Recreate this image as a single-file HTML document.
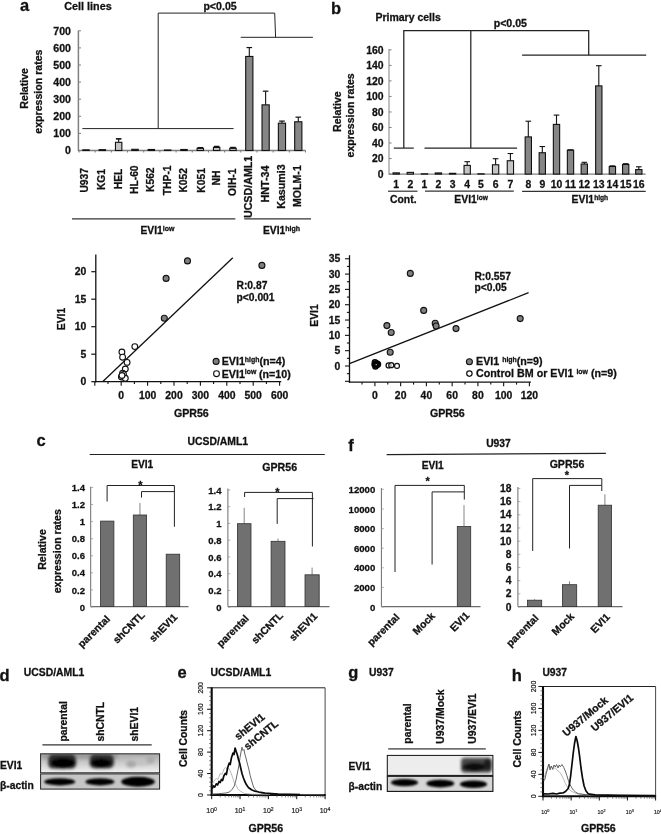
<!DOCTYPE html>
<html lang="en"><head><meta charset="utf-8"><title>Figure</title>
<style>html,body{margin:0;padding:0;background:#fff}svg{display:block}text{font-family:'Liberation Sans', sans-serif;stroke:#111;stroke-width:.28px}text.tk{font-weight:normal;stroke-width:.18px}</style>
</head><body>
<svg width="661" height="834" viewBox="0 0 661 834">
<defs>
<filter id="blur1" x="-20%" y="-50%" width="140%" height="200%"><feGaussianBlur stdDeviation="0.9"/></filter>
<filter id="blur2" x="-20%" y="-50%" width="140%" height="200%"><feGaussianBlur stdDeviation="1.7"/></filter>
<linearGradient id="gd1" x1="0" y1="0" x2="0" y2="1"><stop offset="0" stop-color="#a8a8a8"/><stop offset="0.6" stop-color="#d4d4d4"/><stop offset="1" stop-color="#f2f2f2"/></linearGradient>
<clipPath id="clipd1"><rect x="40.6" y="753.8" width="119" height="19"/></clipPath>
<clipPath id="clipd2"><rect x="40.6" y="773.9" width="119" height="15.2"/></clipPath>
<clipPath id="clipg1"><rect x="387.3" y="755.4" width="105.6" height="20"/></clipPath>
<clipPath id="clipg2"><rect x="387.3" y="776.3" width="105.6" height="15.1"/></clipPath>
</defs>
<rect x="0" y="0" width="661" height="834" fill="#fff"/>
<g id="panel-a">
<text x="20" y="11.3" font-size="16.5" text-anchor="start" font-weight="bold" fill="#111">a</text>
<text x="64.3" y="9.6" font-size="10.8" text-anchor="start" font-weight="bold" fill="#111">Cell lines</text>
<text x="203.4" y="9.9" font-size="10.6" text-anchor="start" font-weight="bold" fill="#111">p&lt;0.05</text>
<line x1="78.4" y1="30.5" x2="78.4" y2="151.2" stroke="#808080" stroke-width="1.5"/>
<line x1="78.4" y1="150.5" x2="305.5" y2="150.5" stroke="#808080" stroke-width="1.4"/>
<line x1="78.4" y1="150.5" x2="81" y2="150.5" stroke="#808080" stroke-width="1"/>
<text x="71" y="154.3" font-size="10.6" text-anchor="end" font-weight="bold" fill="#111">0</text>
<line x1="78.4" y1="133.4" x2="81" y2="133.4" stroke="#808080" stroke-width="1"/>
<text x="71" y="137.20000000000002" font-size="10.6" text-anchor="end" font-weight="bold" fill="#111">100</text>
<line x1="78.4" y1="116.3" x2="81" y2="116.3" stroke="#808080" stroke-width="1"/>
<text x="71" y="120.1" font-size="10.6" text-anchor="end" font-weight="bold" fill="#111">200</text>
<line x1="78.4" y1="99.19999999999999" x2="81" y2="99.19999999999999" stroke="#808080" stroke-width="1"/>
<text x="71" y="102.99999999999999" font-size="10.6" text-anchor="end" font-weight="bold" fill="#111">300</text>
<line x1="78.4" y1="82.1" x2="81" y2="82.1" stroke="#808080" stroke-width="1"/>
<text x="71" y="85.89999999999999" font-size="10.6" text-anchor="end" font-weight="bold" fill="#111">400</text>
<line x1="78.4" y1="65.0" x2="81" y2="65.0" stroke="#808080" stroke-width="1"/>
<text x="71" y="68.8" font-size="10.6" text-anchor="end" font-weight="bold" fill="#111">500</text>
<line x1="78.4" y1="47.89999999999999" x2="81" y2="47.89999999999999" stroke="#808080" stroke-width="1"/>
<text x="71" y="51.69999999999999" font-size="10.6" text-anchor="end" font-weight="bold" fill="#111">600</text>
<line x1="78.4" y1="30.799999999999983" x2="81" y2="30.799999999999983" stroke="#808080" stroke-width="1"/>
<text x="71" y="34.59999999999998" font-size="10.6" text-anchor="end" font-weight="bold" fill="#111">700</text>
<text x="27.8" y="88.3" font-size="10.6" text-anchor="middle" font-weight="bold" fill="#111" transform="rotate(-90 27.8 88.3)">Relative</text>
<text x="42.2" y="91.6" font-size="10.6" text-anchor="middle" font-weight="bold" fill="#111" transform="rotate(-90 42.2 91.6)">expression rates</text>
<rect x="82.80" y="149.82" width="6.40" height="0.68" fill="#c4c4c4" stroke="#111" stroke-width="1.1"/>
<rect x="99.13" y="149.65" width="6.40" height="0.86" fill="#c4c4c4" stroke="#111" stroke-width="1.1"/>
<rect x="115.46" y="142.29" width="6.40" height="8.21" fill="#c4c4c4" stroke="#111" stroke-width="1.1"/>
<line x1="118.66" y1="142.292" x2="118.66" y2="138.872" stroke="#111" stroke-width="1.1"/>
<line x1="115.86" y1="138.872" x2="121.46" y2="138.872" stroke="#111" stroke-width="1.6"/>
<rect x="131.79" y="149.30" width="6.40" height="1.20" fill="#c4c4c4" stroke="#111" stroke-width="1.1"/>
<rect x="148.12" y="149.47" width="6.40" height="1.03" fill="#c4c4c4" stroke="#111" stroke-width="1.1"/>
<rect x="164.45" y="149.99" width="6.40" height="0.51" fill="#c4c4c4" stroke="#111" stroke-width="1.1"/>
<rect x="180.78" y="149.47" width="6.40" height="1.03" fill="#c4c4c4" stroke="#111" stroke-width="1.1"/>
<rect x="197.11" y="148.28" width="6.40" height="2.22" fill="#c4c4c4" stroke="#111" stroke-width="1.1"/>
<line x1="200.31" y1="148.277" x2="200.31" y2="147.76399999999998" stroke="#111" stroke-width="1.1"/>
<line x1="197.51" y1="147.76399999999998" x2="203.11" y2="147.76399999999998" stroke="#111" stroke-width="1.6"/>
<rect x="213.44" y="147.42" width="6.40" height="3.08" fill="#c4c4c4" stroke="#111" stroke-width="1.1"/>
<line x1="216.64" y1="147.422" x2="216.64" y2="146.567" stroke="#111" stroke-width="1.1"/>
<line x1="213.83999999999997" y1="146.567" x2="219.44" y2="146.567" stroke="#111" stroke-width="1.6"/>
<rect x="229.77" y="148.28" width="6.40" height="2.22" fill="#c4c4c4" stroke="#111" stroke-width="1.1"/>
<line x1="232.96999999999997" y1="148.277" x2="232.96999999999997" y2="147.593" stroke="#111" stroke-width="1.1"/>
<line x1="230.16999999999996" y1="147.593" x2="235.76999999999998" y2="147.593" stroke="#111" stroke-width="1.6"/>
<rect x="245.70" y="56.45" width="7.20" height="94.05" fill="#868686" stroke="#111" stroke-width="1.1"/>
<line x1="249.29999999999998" y1="56.44999999999999" x2="249.29999999999998" y2="47.557999999999986" stroke="#111" stroke-width="1.1"/>
<line x1="246.49999999999997" y1="47.557999999999986" x2="252.1" y2="47.557999999999986" stroke="#111" stroke-width="1.2"/>
<rect x="262.03" y="104.84" width="7.20" height="45.66" fill="#868686" stroke="#111" stroke-width="1.1"/>
<line x1="265.63" y1="104.84299999999999" x2="265.63" y2="91.16299999999998" stroke="#111" stroke-width="1.1"/>
<line x1="262.83" y1="91.16299999999998" x2="268.43" y2="91.16299999999998" stroke="#111" stroke-width="1.2"/>
<rect x="278.36" y="123.14" width="7.20" height="27.36" fill="#868686" stroke="#111" stroke-width="1.1"/>
<line x1="281.96" y1="123.14" x2="281.96" y2="121.088" stroke="#111" stroke-width="1.1"/>
<line x1="279.15999999999997" y1="121.088" x2="284.76" y2="121.088" stroke="#111" stroke-width="1.2"/>
<rect x="294.69" y="121.77" width="7.20" height="28.73" fill="#868686" stroke="#111" stroke-width="1.1"/>
<line x1="298.28999999999996" y1="121.77199999999999" x2="298.28999999999996" y2="117.15499999999999" stroke="#111" stroke-width="1.1"/>
<line x1="295.48999999999995" y1="117.15499999999999" x2="301.09" y2="117.15499999999999" stroke="#111" stroke-width="1.2"/>
<line x1="79.0" y1="150.5" x2="79.0" y2="152.5" stroke="#777" stroke-width="1"/>
<line x1="95.18" y1="150.5" x2="95.18" y2="152.5" stroke="#777" stroke-width="1"/>
<line x1="111.36" y1="150.5" x2="111.36" y2="152.5" stroke="#777" stroke-width="1"/>
<line x1="127.53999999999999" y1="150.5" x2="127.53999999999999" y2="152.5" stroke="#777" stroke-width="1"/>
<line x1="143.72" y1="150.5" x2="143.72" y2="152.5" stroke="#777" stroke-width="1"/>
<line x1="159.9" y1="150.5" x2="159.9" y2="152.5" stroke="#777" stroke-width="1"/>
<line x1="176.07999999999998" y1="150.5" x2="176.07999999999998" y2="152.5" stroke="#777" stroke-width="1"/>
<line x1="192.26" y1="150.5" x2="192.26" y2="152.5" stroke="#777" stroke-width="1"/>
<line x1="208.44" y1="150.5" x2="208.44" y2="152.5" stroke="#777" stroke-width="1"/>
<line x1="224.62" y1="150.5" x2="224.62" y2="152.5" stroke="#777" stroke-width="1"/>
<line x1="240.8" y1="150.5" x2="240.8" y2="152.5" stroke="#777" stroke-width="1"/>
<line x1="256.98" y1="150.5" x2="256.98" y2="152.5" stroke="#777" stroke-width="1"/>
<line x1="273.15999999999997" y1="150.5" x2="273.15999999999997" y2="152.5" stroke="#777" stroke-width="1"/>
<line x1="289.34000000000003" y1="150.5" x2="289.34000000000003" y2="152.5" stroke="#777" stroke-width="1"/>
<line x1="305.52" y1="150.5" x2="305.52" y2="152.5" stroke="#777" stroke-width="1"/>
<line x1="82.4" y1="128.6" x2="233.6" y2="128.6" stroke="#222" stroke-width="1"/>
<polyline points="158.2,128.6 158.2,13.1 274.7,13.1 275.6,37.3" fill="none" stroke="#222" stroke-width="1"/>
<line x1="240.7" y1="37.3" x2="312.9" y2="37.3" stroke="#222" stroke-width="1"/>
<text x="88.4" y="180.3" font-size="10.3" text-anchor="middle" font-weight="bold" fill="#111" transform="rotate(-90 88.4 180.3)">U937</text>
<text x="105" y="179.5" font-size="10.3" text-anchor="middle" font-weight="bold" fill="#111" transform="rotate(-90 105 179.5)">KG1</text>
<text x="121.9" y="178.9" font-size="10.3" text-anchor="middle" font-weight="bold" fill="#111" transform="rotate(-90 121.9 178.9)">HEL</text>
<text x="137.8" y="179.7" font-size="10.3" text-anchor="middle" font-weight="bold" fill="#111" transform="rotate(-90 137.8 179.7)">HL-60</text>
<text x="153.7" y="179.7" font-size="10.3" text-anchor="middle" font-weight="bold" fill="#111" transform="rotate(-90 153.7 179.7)">K562</text>
<text x="171.1" y="180.3" font-size="10.3" text-anchor="middle" font-weight="bold" fill="#111" transform="rotate(-90 171.1 180.3)">THP-1</text>
<text x="186.9" y="180.3" font-size="10.3" text-anchor="middle" font-weight="bold" fill="#111" transform="rotate(-90 186.9 180.3)">K052</text>
<text x="204.7" y="180.3" font-size="10.3" text-anchor="middle" font-weight="bold" fill="#111" transform="rotate(-90 204.7 180.3)">K051</text>
<text x="220" y="178" font-size="10.3" text-anchor="middle" font-weight="bold" fill="#111" transform="rotate(-90 220 178)">NH</text>
<text x="236.5" y="182.2" font-size="10.3" text-anchor="middle" font-weight="bold" fill="#111" transform="rotate(-90 236.5 182.2)">OIH-1</text>
<text x="252.4" y="186.9" font-size="10.7" text-anchor="middle" font-weight="bold" fill="#111" transform="rotate(-90 252.4 186.9)">UCSD/AML1</text>
<text x="269.3" y="184" font-size="10.7" text-anchor="middle" font-weight="bold" fill="#111" transform="rotate(-90 269.3 184)">HNT-34</text>
<text x="284.6" y="186.5" font-size="10.7" text-anchor="middle" font-weight="bold" fill="#111" transform="rotate(-90 284.6 186.5)">Kasumi3</text>
<text x="301.1" y="186.1" font-size="10.6" text-anchor="middle" font-weight="bold" fill="#111" transform="rotate(-90 301.1 186.1)">MOLM-1</text>
<line x1="72" y1="218.8" x2="235.3" y2="218.8" stroke="#333" stroke-width="1.2"/>
<line x1="244.2" y1="218.8" x2="311" y2="218.8" stroke="#333" stroke-width="1.2"/>
<text x="140.5" y="234.3" font-size="10.3" text-anchor="start" font-weight="bold" fill="#111">EVI1<tspan font-size="7" dy="-3.6">low</tspan></text>
<text x="262.9" y="234.3" font-size="10.3" text-anchor="start" font-weight="bold" fill="#111">EVI1<tspan font-size="7" dy="-3.6">high</tspan></text>
</g>
<g id="panel-b">
<text x="331" y="13.6" font-size="16.5" text-anchor="start" font-weight="bold" fill="#111">b</text>
<text x="375.4" y="20.9" font-size="10.5" text-anchor="start" font-weight="bold" fill="#111">Primary cells</text>
<text x="493.7" y="26.5" font-size="10.6" text-anchor="start" font-weight="bold" fill="#111">p&lt;0.05</text>
<line x1="389" y1="49" x2="389" y2="174.7" stroke="#8c8c8c" stroke-width="1.1"/>
<line x1="389" y1="174.1" x2="645.7" y2="174.1" stroke="#808080" stroke-width="1.3"/>
<line x1="389" y1="174.1" x2="391.6" y2="174.1" stroke="#808080" stroke-width="1"/>
<text x="383.5" y="177.79999999999998" font-size="10.4" text-anchor="end" font-weight="bold" fill="#111">0</text>
<line x1="389" y1="158.57" x2="391.6" y2="158.57" stroke="#808080" stroke-width="1"/>
<text x="383.5" y="162.26999999999998" font-size="10.4" text-anchor="end" font-weight="bold" fill="#111">20</text>
<line x1="389" y1="143.04" x2="391.6" y2="143.04" stroke="#808080" stroke-width="1"/>
<text x="383.5" y="146.73999999999998" font-size="10.4" text-anchor="end" font-weight="bold" fill="#111">40</text>
<line x1="389" y1="127.50999999999999" x2="391.6" y2="127.50999999999999" stroke="#808080" stroke-width="1"/>
<text x="383.5" y="131.20999999999998" font-size="10.4" text-anchor="end" font-weight="bold" fill="#111">60</text>
<line x1="389" y1="111.97999999999999" x2="391.6" y2="111.97999999999999" stroke="#808080" stroke-width="1"/>
<text x="383.5" y="115.67999999999999" font-size="10.4" text-anchor="end" font-weight="bold" fill="#111">80</text>
<line x1="389" y1="96.45" x2="391.6" y2="96.45" stroke="#808080" stroke-width="1"/>
<text x="383.5" y="100.15" font-size="10.4" text-anchor="end" font-weight="bold" fill="#111">100</text>
<line x1="389" y1="80.92" x2="391.6" y2="80.92" stroke="#808080" stroke-width="1"/>
<text x="383.5" y="84.62" font-size="10.4" text-anchor="end" font-weight="bold" fill="#111">120</text>
<line x1="389" y1="65.39" x2="391.6" y2="65.39" stroke="#808080" stroke-width="1"/>
<text x="383.5" y="69.09" font-size="10.4" text-anchor="end" font-weight="bold" fill="#111">140</text>
<line x1="389" y1="49.86" x2="391.6" y2="49.86" stroke="#808080" stroke-width="1"/>
<text x="383.5" y="53.56" font-size="10.4" text-anchor="end" font-weight="bold" fill="#111">160</text>
<text x="340.7" y="111.6" font-size="10.6" text-anchor="middle" font-weight="bold" fill="#111" transform="rotate(-90 340.7 111.6)">Relative</text>
<text x="354.3" y="115.4" font-size="10.6" text-anchor="middle" font-weight="bold" fill="#111" transform="rotate(-90 354.3 115.4)">expression rates</text>
<rect x="393.05" y="172.86" width="6.30" height="1.24" fill="#c4c4c4" stroke="#111" stroke-width="1.1"/>
<rect x="407.15" y="172.39" width="6.30" height="1.71" fill="#c4c4c4" stroke="#111" stroke-width="1.1"/>
<rect x="421.35" y="173.79" width="6.30" height="0.31" fill="#c4c4c4" stroke="#111" stroke-width="1.1"/>
<rect x="435.25" y="172.94" width="6.30" height="1.16" fill="#c4c4c4" stroke="#111" stroke-width="1.1"/>
<rect x="449.45" y="173.32" width="6.30" height="0.78" fill="#c4c4c4" stroke="#111" stroke-width="1.1"/>
<rect x="464.05" y="165.40" width="6.30" height="8.70" fill="#c4c4c4" stroke="#111" stroke-width="1.1"/>
<line x1="467.2" y1="165.4032" x2="467.2" y2="161.676" stroke="#111" stroke-width="1.1"/>
<line x1="464.4" y1="161.676" x2="470.0" y2="161.676" stroke="#111" stroke-width="1.1"/>
<rect x="477.85" y="173.79" width="6.30" height="0.31" fill="#c4c4c4" stroke="#111" stroke-width="1.1"/>
<rect x="492.45" y="164.78" width="6.30" height="9.32" fill="#c4c4c4" stroke="#111" stroke-width="1.1"/>
<line x1="495.6" y1="164.78199999999998" x2="495.6" y2="158.72529999999998" stroke="#111" stroke-width="1.1"/>
<line x1="492.8" y1="158.72529999999998" x2="498.40000000000003" y2="158.72529999999998" stroke="#111" stroke-width="1.1"/>
<rect x="507.25" y="160.74" width="6.30" height="13.36" fill="#c4c4c4" stroke="#111" stroke-width="1.1"/>
<line x1="510.4" y1="160.7442" x2="510.4" y2="153.52275" stroke="#111" stroke-width="1.1"/>
<line x1="507.59999999999997" y1="153.52275" x2="513.1999999999999" y2="153.52275" stroke="#111" stroke-width="1.1"/>
<rect x="525.15" y="136.91" width="6.30" height="37.19" fill="#868686" stroke="#111" stroke-width="1.1"/>
<line x1="528.3" y1="136.90564999999998" x2="528.3" y2="121.22034999999998" stroke="#111" stroke-width="1.1"/>
<line x1="525.5" y1="121.22034999999998" x2="531.0999999999999" y2="121.22034999999998" stroke="#111" stroke-width="1.1"/>
<rect x="539.15" y="152.75" width="6.30" height="21.35" fill="#868686" stroke="#111" stroke-width="1.1"/>
<line x1="542.3" y1="152.74625" x2="542.3" y2="146.53425000000001" stroke="#111" stroke-width="1.1"/>
<line x1="539.5" y1="146.53425000000001" x2="545.0999999999999" y2="146.53425000000001" stroke="#111" stroke-width="1.1"/>
<rect x="553.35" y="124.40" width="6.30" height="49.70" fill="#868686" stroke="#111" stroke-width="1.1"/>
<line x1="556.5" y1="124.404" x2="556.5" y2="115.086" stroke="#111" stroke-width="1.1"/>
<line x1="553.7" y1="115.086" x2="559.3" y2="115.086" stroke="#111" stroke-width="1.1"/>
<rect x="567.35" y="150.18" width="6.30" height="23.92" fill="#868686" stroke="#111" stroke-width="1.1"/>
<line x1="570.5" y1="150.1838" x2="570.5" y2="149.79555" stroke="#111" stroke-width="1.1"/>
<line x1="567.7" y1="149.79555" x2="573.3" y2="149.79555" stroke="#111" stroke-width="1.1"/>
<rect x="581.15" y="164.01" width="6.30" height="10.09" fill="#868686" stroke="#111" stroke-width="1.1"/>
<line x1="584.3" y1="164.00549999999998" x2="584.3" y2="162.29719999999998" stroke="#111" stroke-width="1.1"/>
<line x1="581.5" y1="162.29719999999998" x2="587.0999999999999" y2="162.29719999999998" stroke="#111" stroke-width="1.1"/>
<rect x="595.65" y="85.89" width="6.30" height="88.21" fill="#868686" stroke="#111" stroke-width="1.1"/>
<line x1="598.8" y1="85.8896" x2="598.8" y2="65.70060000000001" stroke="#111" stroke-width="1.1"/>
<line x1="596.0" y1="65.70060000000001" x2="601.5999999999999" y2="65.70060000000001" stroke="#111" stroke-width="1.1"/>
<rect x="609.25" y="166.49" width="6.30" height="7.61" fill="#868686" stroke="#111" stroke-width="1.1"/>
<line x1="612.4" y1="166.4903" x2="612.4" y2="165.8691" stroke="#111" stroke-width="1.1"/>
<line x1="609.6" y1="165.8691" x2="615.1999999999999" y2="165.8691" stroke="#111" stroke-width="1.1"/>
<rect x="622.55" y="164.47" width="6.30" height="9.63" fill="#868686" stroke="#111" stroke-width="1.1"/>
<line x1="625.7" y1="164.4714" x2="625.7" y2="163.6949" stroke="#111" stroke-width="1.1"/>
<line x1="622.9000000000001" y1="163.6949" x2="628.5" y2="163.6949" stroke="#111" stroke-width="1.1"/>
<rect x="635.65" y="169.60" width="6.30" height="4.50" fill="#868686" stroke="#111" stroke-width="1.1"/>
<line x1="638.8" y1="169.59629999999999" x2="638.8" y2="166.80089999999998" stroke="#111" stroke-width="1.1"/>
<line x1="636.0" y1="166.80089999999998" x2="641.5999999999999" y2="166.80089999999998" stroke="#111" stroke-width="1.1"/>
<text x="396.2" y="188.2" font-size="10.4" text-anchor="middle" font-weight="bold" fill="#111">1</text>
<text x="410.3" y="188.2" font-size="10.4" text-anchor="middle" font-weight="bold" fill="#111">2</text>
<text x="424.5" y="188.2" font-size="10.4" text-anchor="middle" font-weight="bold" fill="#111">1</text>
<text x="438.4" y="188.2" font-size="10.4" text-anchor="middle" font-weight="bold" fill="#111">2</text>
<text x="452.6" y="188.2" font-size="10.4" text-anchor="middle" font-weight="bold" fill="#111">3</text>
<text x="467.2" y="188.2" font-size="10.4" text-anchor="middle" font-weight="bold" fill="#111">4</text>
<text x="481.0" y="188.2" font-size="10.4" text-anchor="middle" font-weight="bold" fill="#111">5</text>
<text x="495.6" y="188.2" font-size="10.4" text-anchor="middle" font-weight="bold" fill="#111">6</text>
<text x="510.4" y="188.2" font-size="10.4" text-anchor="middle" font-weight="bold" fill="#111">7</text>
<text x="528.3" y="188.2" font-size="10.4" text-anchor="middle" font-weight="bold" fill="#111">8</text>
<text x="542.3" y="188.2" font-size="10.4" text-anchor="middle" font-weight="bold" fill="#111">9</text>
<text x="556.5" y="188.2" font-size="10.4" text-anchor="middle" font-weight="bold" fill="#111">10</text>
<text x="570.5" y="188.2" font-size="10.4" text-anchor="middle" font-weight="bold" fill="#111">11</text>
<text x="584.3" y="188.2" font-size="10.4" text-anchor="middle" font-weight="bold" fill="#111">12</text>
<text x="598.8" y="188.2" font-size="10.4" text-anchor="middle" font-weight="bold" fill="#111">13</text>
<text x="612.4" y="188.2" font-size="10.4" text-anchor="middle" font-weight="bold" fill="#111">14</text>
<text x="625.7" y="188.2" font-size="10.4" text-anchor="middle" font-weight="bold" fill="#111">15</text>
<text x="638.8" y="188.2" font-size="10.4" text-anchor="middle" font-weight="bold" fill="#111">16</text>
<line x1="393.8" y1="148.1" x2="413.8" y2="148.1" stroke="#222" stroke-width="1.2"/>
<line x1="424.5" y1="148.1" x2="517.1" y2="148.1" stroke="#222" stroke-width="1.2"/>
<polyline points="403.8,148.1 403.8,30.6 588.7,30.6 588.7,55.2" fill="none" stroke="#222" stroke-width="1.25"/>
<line x1="470.8" y1="30.6" x2="470.8" y2="148.1" stroke="#222" stroke-width="1.25"/>
<line x1="522.1" y1="55.2" x2="646.2" y2="55.2" stroke="#222" stroke-width="1.2"/>
<line x1="388" y1="191.2" x2="417.5" y2="191.2" stroke="#333" stroke-width="1.2"/>
<line x1="425" y1="191.2" x2="513.8" y2="191.2" stroke="#333" stroke-width="1.2"/>
<line x1="522.1" y1="191.3" x2="645.7" y2="191.3" stroke="#333" stroke-width="1.2"/>
<text x="390" y="203.1" font-size="10.4" text-anchor="start" font-weight="bold" fill="#111">Cont.</text>
<text x="454.3" y="203.1" font-size="10.4" text-anchor="start" font-weight="bold" fill="#111">EVI1<tspan font-size="6.6" dy="-3.6">low</tspan></text>
<text x="571.6" y="203.1" font-size="10.4" text-anchor="start" font-weight="bold" fill="#111">EVI1<tspan font-size="6.6" dy="-3.6">high</tspan></text>
</g>
<g id="scatter-1">
<line x1="95.8" y1="254.5" x2="95.8" y2="382.3" stroke="#111" stroke-width="1.3"/>
<line x1="95.2" y1="381.7" x2="281.2" y2="381.7" stroke="#111" stroke-width="1.3"/>
<line x1="91.3" y1="381.7" x2="95.8" y2="381.7" stroke="#111" stroke-width="1.2"/>
<text x="86.2" y="385.4" font-size="10.4" text-anchor="end" font-weight="bold" fill="#111">0</text>
<line x1="91.3" y1="354.2" x2="95.8" y2="354.2" stroke="#111" stroke-width="1.2"/>
<text x="86.2" y="357.9" font-size="10.4" text-anchor="end" font-weight="bold" fill="#111">5</text>
<line x1="91.3" y1="326.7" x2="95.8" y2="326.7" stroke="#111" stroke-width="1.2"/>
<text x="86.2" y="330.4" font-size="10.4" text-anchor="end" font-weight="bold" fill="#111">10</text>
<line x1="91.3" y1="299.2" x2="95.8" y2="299.2" stroke="#111" stroke-width="1.2"/>
<text x="86.2" y="302.9" font-size="10.4" text-anchor="end" font-weight="bold" fill="#111">15</text>
<line x1="91.3" y1="271.7" x2="95.8" y2="271.7" stroke="#111" stroke-width="1.2"/>
<text x="86.2" y="275.4" font-size="10.4" text-anchor="end" font-weight="bold" fill="#111">20</text>
<line x1="94.80000000000001" y1="381.7" x2="94.80000000000001" y2="385.7" stroke="#111" stroke-width="1.1"/>
<line x1="108.0" y1="381.7" x2="108.0" y2="384.09999999999997" stroke="#111" stroke-width="1.1"/>
<line x1="121.2" y1="381.7" x2="121.2" y2="385.7" stroke="#111" stroke-width="1.1"/>
<line x1="134.4" y1="381.7" x2="134.4" y2="384.09999999999997" stroke="#111" stroke-width="1.1"/>
<line x1="147.6" y1="381.7" x2="147.6" y2="385.7" stroke="#111" stroke-width="1.1"/>
<line x1="160.8" y1="381.7" x2="160.8" y2="384.09999999999997" stroke="#111" stroke-width="1.1"/>
<line x1="174.0" y1="381.7" x2="174.0" y2="385.7" stroke="#111" stroke-width="1.1"/>
<line x1="187.2" y1="381.7" x2="187.2" y2="384.09999999999997" stroke="#111" stroke-width="1.1"/>
<line x1="200.39999999999998" y1="381.7" x2="200.39999999999998" y2="385.7" stroke="#111" stroke-width="1.1"/>
<line x1="213.6" y1="381.7" x2="213.6" y2="384.09999999999997" stroke="#111" stroke-width="1.1"/>
<line x1="226.8" y1="381.7" x2="226.8" y2="385.7" stroke="#111" stroke-width="1.1"/>
<line x1="240.0" y1="381.7" x2="240.0" y2="384.09999999999997" stroke="#111" stroke-width="1.1"/>
<line x1="253.2" y1="381.7" x2="253.2" y2="385.7" stroke="#111" stroke-width="1.1"/>
<line x1="266.4" y1="381.7" x2="266.4" y2="384.09999999999997" stroke="#111" stroke-width="1.1"/>
<line x1="279.59999999999997" y1="381.7" x2="279.59999999999997" y2="385.7" stroke="#111" stroke-width="1.1"/>
<text x="121.2" y="398.6" font-size="10.4" text-anchor="middle" font-weight="bold" fill="#111">0</text>
<text x="147.6" y="398.6" font-size="10.4" text-anchor="middle" font-weight="bold" fill="#111">100</text>
<text x="174.0" y="398.6" font-size="10.4" text-anchor="middle" font-weight="bold" fill="#111">200</text>
<text x="200.39999999999998" y="398.6" font-size="10.4" text-anchor="middle" font-weight="bold" fill="#111">300</text>
<text x="226.8" y="398.6" font-size="10.4" text-anchor="middle" font-weight="bold" fill="#111">400</text>
<text x="253.2" y="398.6" font-size="10.4" text-anchor="middle" font-weight="bold" fill="#111">500</text>
<text x="279.59999999999997" y="398.6" font-size="10.4" text-anchor="middle" font-weight="bold" fill="#111">600</text>
<text x="64.8" y="319" font-size="10.4" text-anchor="middle" font-weight="bold" fill="#111" transform="rotate(-90 64.8 319)">EVI1</text>
<text x="174" y="417.4" font-size="10.6" text-anchor="start" font-weight="bold" fill="#111">GPR56</text>
<line x1="102.6" y1="381.7" x2="232.8" y2="257.8" stroke="#111" stroke-width="1.3"/>
<circle cx="121.9" cy="352" r="2.9" fill="#fff" stroke="#111" stroke-width="1.1"/>
<circle cx="134.8" cy="346.6" r="2.9" fill="#fff" stroke="#111" stroke-width="1.1"/>
<circle cx="122.6" cy="357.2" r="2.9" fill="#fff" stroke="#111" stroke-width="1.1"/>
<circle cx="127.1" cy="362.4" r="2.9" fill="#fff" stroke="#111" stroke-width="1.1"/>
<circle cx="125.3" cy="369" r="2.9" fill="#fff" stroke="#111" stroke-width="1.1"/>
<circle cx="122.6" cy="373.1" r="2.9" fill="#fff" stroke="#111" stroke-width="1.1"/>
<circle cx="123.5" cy="374.4" r="2.9" fill="#fff" stroke="#111" stroke-width="1.1"/>
<circle cx="121.4" cy="377" r="2.9" fill="#fff" stroke="#111" stroke-width="1.1"/>
<circle cx="125.3" cy="378.3" r="2.9" fill="#fff" stroke="#111" stroke-width="1.1"/>
<circle cx="122" cy="375.5" r="2.9" fill="#fff" stroke="#111" stroke-width="1.1"/>
<circle cx="166.1" cy="278.4" r="3.0" fill="#808080" stroke="#111" stroke-width="1.1"/>
<circle cx="164.3" cy="318.3" r="3.0" fill="#808080" stroke="#111" stroke-width="1.1"/>
<circle cx="187.5" cy="260.9" r="3.0" fill="#808080" stroke="#111" stroke-width="1.1"/>
<circle cx="261.9" cy="265.4" r="3.0" fill="#808080" stroke="#111" stroke-width="1.1"/>
<text x="236.5" y="288.7" font-size="10.3" text-anchor="start" font-weight="bold" fill="#111">R:0.87</text>
<text x="236.5" y="300.7" font-size="10.3" text-anchor="start" font-weight="bold" fill="#111">p&lt;0.001</text>
<circle cx="216.1" cy="361.4" r="3.0" fill="#808080" stroke="#111" stroke-width="1.1"/>
<circle cx="216.5" cy="373.7" r="2.9" fill="#fff" stroke="#111" stroke-width="1.1"/>
<text x="221.7" y="365.2" font-size="10.7" font-weight="bold" fill="#111">EVI1<tspan font-size="6.9" dy="-3.4">high</tspan><tspan dy="3.4">(n=4)</tspan></text>
<text x="221.7" y="377.7" font-size="10.7" font-weight="bold" fill="#111">EVI1<tspan font-size="6.9" dy="-3.4">low</tspan><tspan dy="3.4" dx="2.6">(n=10)</tspan></text>
</g>
<g id="scatter-2">
<line x1="349.5" y1="255.2" x2="349.5" y2="382.8" stroke="#111" stroke-width="1.3"/>
<line x1="348.9" y1="382.2" x2="530.9" y2="382.2" stroke="#111" stroke-width="1.3"/>
<line x1="345.0" y1="381.32" x2="349.5" y2="381.32" stroke="#111" stroke-width="1.1"/>
<line x1="346.9" y1="373.66" x2="349.5" y2="373.66" stroke="#111" stroke-width="1.1"/>
<line x1="345.0" y1="366.0" x2="349.5" y2="366.0" stroke="#111" stroke-width="1.1"/>
<line x1="346.9" y1="358.34" x2="349.5" y2="358.34" stroke="#111" stroke-width="1.1"/>
<line x1="345.0" y1="350.68" x2="349.5" y2="350.68" stroke="#111" stroke-width="1.1"/>
<line x1="346.9" y1="343.02" x2="349.5" y2="343.02" stroke="#111" stroke-width="1.1"/>
<line x1="345.0" y1="335.36" x2="349.5" y2="335.36" stroke="#111" stroke-width="1.1"/>
<line x1="346.9" y1="327.7" x2="349.5" y2="327.7" stroke="#111" stroke-width="1.1"/>
<line x1="345.0" y1="320.04" x2="349.5" y2="320.04" stroke="#111" stroke-width="1.1"/>
<line x1="346.9" y1="312.38" x2="349.5" y2="312.38" stroke="#111" stroke-width="1.1"/>
<line x1="345.0" y1="304.72" x2="349.5" y2="304.72" stroke="#111" stroke-width="1.1"/>
<line x1="346.9" y1="297.06" x2="349.5" y2="297.06" stroke="#111" stroke-width="1.1"/>
<line x1="345.0" y1="289.4" x2="349.5" y2="289.4" stroke="#111" stroke-width="1.1"/>
<line x1="346.9" y1="281.74" x2="349.5" y2="281.74" stroke="#111" stroke-width="1.1"/>
<line x1="345.0" y1="274.08" x2="349.5" y2="274.08" stroke="#111" stroke-width="1.1"/>
<line x1="346.9" y1="266.42" x2="349.5" y2="266.42" stroke="#111" stroke-width="1.1"/>
<line x1="345.0" y1="258.76" x2="349.5" y2="258.76" stroke="#111" stroke-width="1.1"/>
<text x="340.2" y="369.7" font-size="10.4" text-anchor="end" font-weight="bold" fill="#111">0</text>
<text x="340.2" y="354.38" font-size="10.4" text-anchor="end" font-weight="bold" fill="#111">5</text>
<text x="340.2" y="339.06" font-size="10.4" text-anchor="end" font-weight="bold" fill="#111">10</text>
<text x="340.2" y="323.74" font-size="10.4" text-anchor="end" font-weight="bold" fill="#111">15</text>
<text x="340.2" y="308.42" font-size="10.4" text-anchor="end" font-weight="bold" fill="#111">20</text>
<text x="340.2" y="293.09999999999997" font-size="10.4" text-anchor="end" font-weight="bold" fill="#111">25</text>
<text x="340.2" y="277.78" font-size="10.4" text-anchor="end" font-weight="bold" fill="#111">30</text>
<text x="340.2" y="262.46" font-size="10.4" text-anchor="end" font-weight="bold" fill="#111">35</text>
<line x1="362.025" y1="382.2" x2="362.025" y2="384.59999999999997" stroke="#111" stroke-width="1.1"/>
<line x1="374.9" y1="382.2" x2="374.9" y2="386.2" stroke="#111" stroke-width="1.1"/>
<line x1="387.775" y1="382.2" x2="387.775" y2="384.59999999999997" stroke="#111" stroke-width="1.1"/>
<line x1="400.65" y1="382.2" x2="400.65" y2="386.2" stroke="#111" stroke-width="1.1"/>
<line x1="413.525" y1="382.2" x2="413.525" y2="384.59999999999997" stroke="#111" stroke-width="1.1"/>
<line x1="426.4" y1="382.2" x2="426.4" y2="386.2" stroke="#111" stroke-width="1.1"/>
<line x1="439.275" y1="382.2" x2="439.275" y2="384.59999999999997" stroke="#111" stroke-width="1.1"/>
<line x1="452.15" y1="382.2" x2="452.15" y2="386.2" stroke="#111" stroke-width="1.1"/>
<line x1="465.025" y1="382.2" x2="465.025" y2="384.59999999999997" stroke="#111" stroke-width="1.1"/>
<line x1="477.9" y1="382.2" x2="477.9" y2="386.2" stroke="#111" stroke-width="1.1"/>
<line x1="490.775" y1="382.2" x2="490.775" y2="384.59999999999997" stroke="#111" stroke-width="1.1"/>
<line x1="503.65" y1="382.2" x2="503.65" y2="386.2" stroke="#111" stroke-width="1.1"/>
<line x1="516.525" y1="382.2" x2="516.525" y2="384.59999999999997" stroke="#111" stroke-width="1.1"/>
<line x1="529.4" y1="382.2" x2="529.4" y2="386.2" stroke="#111" stroke-width="1.1"/>
<text x="374.9" y="398.9" font-size="10.4" text-anchor="middle" font-weight="bold" fill="#111">0</text>
<text x="400.65" y="398.9" font-size="10.4" text-anchor="middle" font-weight="bold" fill="#111">20</text>
<text x="426.4" y="398.9" font-size="10.4" text-anchor="middle" font-weight="bold" fill="#111">40</text>
<text x="452.15" y="398.9" font-size="10.4" text-anchor="middle" font-weight="bold" fill="#111">60</text>
<text x="477.9" y="398.9" font-size="10.4" text-anchor="middle" font-weight="bold" fill="#111">80</text>
<text x="503.65" y="398.9" font-size="10.4" text-anchor="middle" font-weight="bold" fill="#111">100</text>
<text x="529.4" y="398.9" font-size="10.4" text-anchor="middle" font-weight="bold" fill="#111">120</text>
<text x="317.9" y="315.5" font-size="10.4" text-anchor="middle" font-weight="bold" fill="#111" transform="rotate(-90 317.9 315.5)">EVI1</text>
<text x="430" y="417.1" font-size="10.6" text-anchor="start" font-weight="bold" fill="#111">GPR56</text>
<line x1="349.5" y1="363.6" x2="528.6" y2="292.7" stroke="#111" stroke-width="1.3"/>
<circle cx="376.3" cy="364.3" r="4.0" fill="#222" stroke="#111" stroke-width="0.8"/>
<circle cx="374.9" cy="362.2" r="2.5" fill="none" stroke="#050505" stroke-width="1.5"/>
<circle cx="378" cy="364.3" r="2.5" fill="none" stroke="#050505" stroke-width="1.5"/>
<circle cx="375.4" cy="366.5" r="2.5" fill="none" stroke="#050505" stroke-width="1.5"/>
<circle cx="376.4" cy="364" r="2.5" fill="none" stroke="#050505" stroke-width="1.5"/>
<circle cx="374.6" cy="364.6" r="2.5" fill="none" stroke="#050505" stroke-width="1.5"/>
<circle cx="376.2" cy="364.6" r="0.7" fill="#ddd"/>
<circle cx="388.6" cy="365.4" r="2.5" fill="#fff" stroke="#111" stroke-width="1.3"/>
<circle cx="391.3" cy="365.2" r="2.5" fill="rgba(255,255,255,.6)" stroke="#111" stroke-width="1.3"/>
<circle cx="397" cy="365.9" r="2.45" fill="#fff" stroke="#111" stroke-width="1.2"/>
<circle cx="410.3" cy="273.4" r="3.0" fill="#808080" stroke="#111" stroke-width="1.1"/>
<circle cx="423.7" cy="310.4" r="3.0" fill="#808080" stroke="#111" stroke-width="1.1"/>
<circle cx="386.9" cy="325.6" r="3.0" fill="#808080" stroke="#111" stroke-width="1.1"/>
<circle cx="391.2" cy="332.5" r="3.0" fill="#808080" stroke="#111" stroke-width="1.1"/>
<circle cx="435.2" cy="323.3" r="3.0" fill="#808080" stroke="#111" stroke-width="1.1"/>
<circle cx="436.1" cy="326" r="3.0" fill="#808080" stroke="#111" stroke-width="1.1"/>
<circle cx="390.2" cy="352.2" r="3.0" fill="#808080" stroke="#111" stroke-width="1.1"/>
<circle cx="456" cy="328.6" r="3.0" fill="#808080" stroke="#111" stroke-width="1.1"/>
<circle cx="520.2" cy="318.6" r="3.0" fill="#808080" stroke="#111" stroke-width="1.1"/>
<text x="474.4" y="279.5" font-size="10.3" text-anchor="start" font-weight="bold" fill="#111">R:0.557</text>
<text x="474.4" y="291.2" font-size="10.3" text-anchor="start" font-weight="bold" fill="#111">p&lt;0.05</text>
<circle cx="469.4" cy="361.8" r="3.0" fill="#808080" stroke="#111" stroke-width="1.1"/>
<circle cx="469.4" cy="373.6" r="2.7" fill="#fff" stroke="#111" stroke-width="1.2"/>
<text x="476.1" y="365.2" font-size="10.7" font-weight="bold" fill="#111">EVI1 <tspan font-size="6.9" dy="-3.4">high</tspan><tspan dy="3.4">(n=9)</tspan></text>
<text x="476.1" y="376.9" font-size="10.7" font-weight="bold" fill="#111">Control BM or EVI1 <tspan font-size="6.9" dy="-3.4">low</tspan><tspan dy="3.4" dx="3">(n=9)</tspan></text>
</g>
<g id="panel-c">
<text x="36.5" y="446.4" font-size="16.5" text-anchor="start" font-weight="bold" fill="#111">c</text>
<text x="187.5" y="445.1" font-size="10.4" text-anchor="start" font-weight="bold" fill="#111">UCSD/AML1</text>
<line x1="89.7" y1="454.5" x2="324.8" y2="454.5" stroke="#222" stroke-width="1.2"/>
<text x="142.2" y="468.2" font-size="10.2" text-anchor="middle" font-weight="bold" fill="#111">EVI1</text>
<text x="279.7" y="471.4" font-size="10.6" text-anchor="middle" font-weight="bold" fill="#111">GPR56</text>
<text x="45.8" y="549.5" font-size="10.6" text-anchor="middle" font-weight="bold" fill="#111" transform="rotate(-90 45.8 549.5)">Relative</text>
<text x="61.1" y="551.2" font-size="10.6" text-anchor="middle" font-weight="bold" fill="#111" transform="rotate(-90 61.1 551.2)">expression rates</text>
<line x1="90.7" y1="486.7" x2="90.7" y2="606.6" stroke="#6c6c6c" stroke-width="1"/>
<line x1="90.7" y1="606.6" x2="188.5" y2="606.6" stroke="#6c6c6c" stroke-width="1.2"/>
<line x1="90.7" y1="607.0" x2="93.10000000000001" y2="607.0" stroke="#999" stroke-width="0.8"/>
<text x="85" y="610.6" font-size="9.5" text-anchor="end" font-weight="bold" fill="#111">0</text>
<line x1="90.7" y1="589.92" x2="93.10000000000001" y2="589.92" stroke="#999" stroke-width="0.8"/>
<text x="85" y="593.52" font-size="9.5" text-anchor="end" font-weight="bold" fill="#111">0.2</text>
<line x1="90.7" y1="572.84" x2="93.10000000000001" y2="572.84" stroke="#999" stroke-width="0.8"/>
<text x="85" y="576.44" font-size="9.5" text-anchor="end" font-weight="bold" fill="#111">0.4</text>
<line x1="90.7" y1="555.76" x2="93.10000000000001" y2="555.76" stroke="#999" stroke-width="0.8"/>
<text x="85" y="559.36" font-size="9.5" text-anchor="end" font-weight="bold" fill="#111">0.6</text>
<line x1="90.7" y1="538.6800000000001" x2="93.10000000000001" y2="538.6800000000001" stroke="#999" stroke-width="0.8"/>
<text x="85" y="542.2800000000001" font-size="9.5" text-anchor="end" font-weight="bold" fill="#111">0.8</text>
<line x1="90.7" y1="521.6" x2="93.10000000000001" y2="521.6" stroke="#999" stroke-width="0.8"/>
<text x="85" y="525.2" font-size="9.5" text-anchor="end" font-weight="bold" fill="#111">1</text>
<line x1="90.7" y1="504.52" x2="93.10000000000001" y2="504.52" stroke="#999" stroke-width="0.8"/>
<text x="85" y="508.12" font-size="9.5" text-anchor="end" font-weight="bold" fill="#111">1.2</text>
<line x1="90.7" y1="487.44" x2="93.10000000000001" y2="487.44" stroke="#999" stroke-width="0.8"/>
<text x="85" y="491.04" font-size="9.5" text-anchor="end" font-weight="bold" fill="#111">1.4</text>
<rect x="100.6" y="521.1" width="13.3" height="85.5" fill="#707070" stroke="#303030" stroke-width="0.8"/>
<line x1="139.95" y1="515" x2="139.95" y2="503" stroke="#777" stroke-width="0.9"/>
<rect x="133.3" y="515" width="13.3" height="91.6" fill="#707070" stroke="#303030" stroke-width="0.8"/>
<rect x="166.2" y="554.2" width="13.5" height="52.4" fill="#707070" stroke="#303030" stroke-width="0.8"/>
<text x="110.7" y="619.7" font-size="10.4" text-anchor="end" font-weight="bold" fill="#111" transform="rotate(-45 110.7 619.7)">parental</text>
<text x="145.4" y="615.8" font-size="10.4" text-anchor="end" font-weight="bold" fill="#111" transform="rotate(-45 145.4 615.8)">shCNTL</text>
<text x="178.1" y="617.9" font-size="10.4" text-anchor="end" font-weight="bold" fill="#111" transform="rotate(-45 178.1 617.9)">shEVI1</text>
<polyline points="107.1,501.5 107.1,485.5 174.4,485.5 174.4,526.8" fill="none" stroke="#222" stroke-width="1"/>
<polyline points="141.5,497.6 141.5,491.6 174.4,491.6" fill="none" stroke="#222" stroke-width="1"/>
<text x="140.3" y="488.6" font-size="11" text-anchor="middle" font-weight="bold" fill="#111">*</text>
<line x1="227.9" y1="488.5" x2="227.9" y2="606.6" stroke="#6c6c6c" stroke-width="1"/>
<line x1="227.9" y1="606.6" x2="329.5" y2="606.6" stroke="#6c6c6c" stroke-width="1.2"/>
<line x1="227.9" y1="607.2" x2="230.3" y2="607.2" stroke="#999" stroke-width="0.8"/>
<text x="221.5" y="610.8000000000001" font-size="9.5" text-anchor="end" font-weight="bold" fill="#111">0</text>
<line x1="227.9" y1="590.45" x2="230.3" y2="590.45" stroke="#999" stroke-width="0.8"/>
<text x="221.5" y="594.0500000000001" font-size="9.5" text-anchor="end" font-weight="bold" fill="#111">0.2</text>
<line x1="227.9" y1="573.7" x2="230.3" y2="573.7" stroke="#999" stroke-width="0.8"/>
<text x="221.5" y="577.3000000000001" font-size="9.5" text-anchor="end" font-weight="bold" fill="#111">0.4</text>
<line x1="227.9" y1="556.95" x2="230.3" y2="556.95" stroke="#999" stroke-width="0.8"/>
<text x="221.5" y="560.5500000000001" font-size="9.5" text-anchor="end" font-weight="bold" fill="#111">0.6</text>
<line x1="227.9" y1="540.2" x2="230.3" y2="540.2" stroke="#999" stroke-width="0.8"/>
<text x="221.5" y="543.8000000000001" font-size="9.5" text-anchor="end" font-weight="bold" fill="#111">0.8</text>
<line x1="227.9" y1="523.45" x2="230.3" y2="523.45" stroke="#999" stroke-width="0.8"/>
<text x="221.5" y="527.0500000000001" font-size="9.5" text-anchor="end" font-weight="bold" fill="#111">1</text>
<line x1="227.9" y1="506.70000000000005" x2="230.3" y2="506.70000000000005" stroke="#999" stroke-width="0.8"/>
<text x="221.5" y="510.30000000000007" font-size="9.5" text-anchor="end" font-weight="bold" fill="#111">1.2</text>
<line x1="227.9" y1="489.95000000000005" x2="230.3" y2="489.95000000000005" stroke="#999" stroke-width="0.8"/>
<text x="221.5" y="493.55000000000007" font-size="9.5" text-anchor="end" font-weight="bold" fill="#111">1.4</text>
<line x1="244.2" y1="523.7" x2="244.2" y2="507.8" stroke="#777" stroke-width="0.9"/>
<rect x="237.4" y="523.7" width="13.6" height="82.9" fill="#707070" stroke="#303030" stroke-width="0.8"/>
<line x1="278.05" y1="541.3" x2="278.05" y2="538.6" stroke="#777" stroke-width="0.9"/>
<rect x="271.1" y="541.3" width="13.9" height="65.3" fill="#707070" stroke="#303030" stroke-width="0.8"/>
<line x1="312.1" y1="574.8" x2="312.1" y2="567.6" stroke="#777" stroke-width="0.9"/>
<rect x="305" y="574.8" width="14.2" height="31.8" fill="#707070" stroke="#303030" stroke-width="0.8"/>
<text x="249.5" y="619.1" font-size="10.4" text-anchor="end" font-weight="bold" fill="#111" transform="rotate(-45 249.5 619.1)">parental</text>
<text x="283.8" y="616.2" font-size="10.4" text-anchor="end" font-weight="bold" fill="#111" transform="rotate(-45 283.8 616.2)">shCNTL</text>
<text x="318" y="616.9" font-size="10.4" text-anchor="end" font-weight="bold" fill="#111" transform="rotate(-45 318 616.9)">shEVI1</text>
<polyline points="244.6,497 244.6,492.4 312.4,492.4 312.4,546.5" fill="none" stroke="#222" stroke-width="1"/>
<polyline points="277.2,523.9 277.2,498.6 313.5,498.6" fill="none" stroke="#222" stroke-width="1"/>
<text x="277.5" y="495.5" font-size="11" text-anchor="middle" font-weight="bold" fill="#111">*</text>
</g>
<g id="panel-f">
<text x="348.3" y="450.7" font-size="16.5" text-anchor="start" font-weight="bold" fill="#111">f</text>
<text x="486.2" y="447.1" font-size="10.3" text-anchor="start" font-weight="bold" fill="#111">U937</text>
<line x1="386.6" y1="454.6" x2="605.9" y2="453.3" stroke="#222" stroke-width="1.2"/>
<text x="432.7" y="468.9" font-size="10.2" text-anchor="middle" font-weight="bold" fill="#111">EVI1</text>
<text x="567" y="467.8" font-size="10.6" text-anchor="middle" font-weight="bold" fill="#111">GPR56</text>
<line x1="381.4" y1="488" x2="381.4" y2="606.6" stroke="#6c6c6c" stroke-width="1"/>
<line x1="381.4" y1="606.6" x2="480.5" y2="606.6" stroke="#6c6c6c" stroke-width="1.2"/>
<line x1="381.4" y1="607.0" x2="383.79999999999995" y2="607.0" stroke="#999" stroke-width="0.8"/>
<text x="375.3" y="610.6" font-size="9.6" text-anchor="end" font-weight="bold" fill="#111">0</text>
<line x1="381.4" y1="587.4" x2="383.79999999999995" y2="587.4" stroke="#999" stroke-width="0.8"/>
<text x="375.3" y="591.0" font-size="9.6" text-anchor="end" font-weight="bold" fill="#111">2000</text>
<line x1="381.4" y1="567.8" x2="383.79999999999995" y2="567.8" stroke="#999" stroke-width="0.8"/>
<text x="375.3" y="571.4" font-size="9.6" text-anchor="end" font-weight="bold" fill="#111">4000</text>
<line x1="381.4" y1="548.2" x2="383.79999999999995" y2="548.2" stroke="#999" stroke-width="0.8"/>
<text x="375.3" y="551.8000000000001" font-size="9.6" text-anchor="end" font-weight="bold" fill="#111">6000</text>
<line x1="381.4" y1="528.6" x2="383.79999999999995" y2="528.6" stroke="#999" stroke-width="0.8"/>
<text x="375.3" y="532.2" font-size="9.6" text-anchor="end" font-weight="bold" fill="#111">8000</text>
<line x1="381.4" y1="509.0" x2="383.79999999999995" y2="509.0" stroke="#999" stroke-width="0.8"/>
<text x="375.3" y="512.6" font-size="9.6" text-anchor="end" font-weight="bold" fill="#111">10000</text>
<line x1="381.4" y1="489.4" x2="383.79999999999995" y2="489.4" stroke="#999" stroke-width="0.8"/>
<text x="375.3" y="493.0" font-size="9.6" text-anchor="end" font-weight="bold" fill="#111">12000</text>
<line x1="464.0" y1="526.5" x2="464.0" y2="505.2" stroke="#777" stroke-width="0.9"/>
<rect x="457.3" y="526.5" width="13.4" height="80.1" fill="#707070" stroke="#303030" stroke-width="0.8"/>
<text x="400.2" y="617.9" font-size="10.4" text-anchor="end" font-weight="bold" fill="#111" transform="rotate(-45 400.2 617.9)">parental</text>
<text x="435.7" y="616.6" font-size="10.4" text-anchor="end" font-weight="bold" fill="#111" transform="rotate(-45 435.7 616.6)">Mock</text>
<text x="470.1" y="616.2" font-size="10.4" text-anchor="end" font-weight="bold" fill="#111" transform="rotate(-45 470.1 616.2)">EVI1</text>
<polyline points="395,572 395,485.4 464.3,485.4 464.3,499.6" fill="none" stroke="#222" stroke-width="1"/>
<polyline points="432.1,564.5 432.1,491.9 464.3,491.9" fill="none" stroke="#222" stroke-width="1"/>
<text x="427.7" y="485" font-size="11" text-anchor="middle" font-weight="bold" fill="#111">*</text>
<line x1="517.9" y1="487" x2="517.9" y2="606.6" stroke="#6c6c6c" stroke-width="1"/>
<line x1="517.9" y1="606.6" x2="622.5" y2="606.6" stroke="#6c6c6c" stroke-width="1.2"/>
<line x1="517.9" y1="607.0" x2="520.3" y2="607.0" stroke="#999" stroke-width="0.8"/>
<text x="511.4" y="610.6" font-size="10.3" text-anchor="end" font-weight="bold" fill="#111">0</text>
<line x1="517.9" y1="593.83" x2="520.3" y2="593.83" stroke="#999" stroke-width="0.8"/>
<text x="511.4" y="597.4300000000001" font-size="10.3" text-anchor="end" font-weight="bold" fill="#111">2</text>
<line x1="517.9" y1="580.66" x2="520.3" y2="580.66" stroke="#999" stroke-width="0.8"/>
<text x="511.4" y="584.26" font-size="10.3" text-anchor="end" font-weight="bold" fill="#111">4</text>
<line x1="517.9" y1="567.49" x2="520.3" y2="567.49" stroke="#999" stroke-width="0.8"/>
<text x="511.4" y="571.09" font-size="10.3" text-anchor="end" font-weight="bold" fill="#111">6</text>
<line x1="517.9" y1="554.32" x2="520.3" y2="554.32" stroke="#999" stroke-width="0.8"/>
<text x="511.4" y="557.9200000000001" font-size="10.3" text-anchor="end" font-weight="bold" fill="#111">8</text>
<line x1="517.9" y1="541.15" x2="520.3" y2="541.15" stroke="#999" stroke-width="0.8"/>
<text x="511.4" y="544.75" font-size="10.3" text-anchor="end" font-weight="bold" fill="#111">10</text>
<line x1="517.9" y1="527.98" x2="520.3" y2="527.98" stroke="#999" stroke-width="0.8"/>
<text x="511.4" y="531.58" font-size="10.3" text-anchor="end" font-weight="bold" fill="#111">12</text>
<line x1="517.9" y1="514.81" x2="520.3" y2="514.81" stroke="#999" stroke-width="0.8"/>
<text x="511.4" y="518.41" font-size="10.3" text-anchor="end" font-weight="bold" fill="#111">14</text>
<line x1="517.9" y1="501.64" x2="520.3" y2="501.64" stroke="#999" stroke-width="0.8"/>
<text x="511.4" y="505.24" font-size="10.3" text-anchor="end" font-weight="bold" fill="#111">16</text>
<line x1="517.9" y1="488.47" x2="520.3" y2="488.47" stroke="#999" stroke-width="0.8"/>
<text x="511.4" y="492.07000000000005" font-size="10.3" text-anchor="end" font-weight="bold" fill="#111">18</text>
<line x1="534.6" y1="600.2" x2="534.6" y2="599.2" stroke="#777" stroke-width="0.9"/>
<rect x="527.5" y="600.2" width="14.2" height="6.4" fill="#707070" stroke="#303030" stroke-width="0.8"/>
<line x1="569.55" y1="584.7" x2="569.55" y2="581.3" stroke="#777" stroke-width="0.9"/>
<rect x="562.4" y="584.7" width="14.3" height="21.9" fill="#707070" stroke="#303030" stroke-width="0.8"/>
<line x1="604.9000000000001" y1="505.2" x2="604.9000000000001" y2="494.3" stroke="#777" stroke-width="0.9"/>
<rect x="598.2" y="505.2" width="13.4" height="101.4" fill="#707070" stroke="#303030" stroke-width="0.8"/>
<text x="539.2" y="618.8" font-size="10.4" text-anchor="end" font-weight="bold" fill="#111" transform="rotate(-45 539.2 618.8)">parental</text>
<text x="574.8" y="617.1" font-size="10.4" text-anchor="end" font-weight="bold" fill="#111" transform="rotate(-45 574.8 617.1)">Mock</text>
<text x="610.7" y="617.7" font-size="10.4" text-anchor="end" font-weight="bold" fill="#111" transform="rotate(-45 610.7 617.7)">EVI1</text>
<polyline points="532.7,551 532.7,478.6 601.8,478.6 601.8,491" fill="none" stroke="#222" stroke-width="1"/>
<polyline points="569.5,548.5 569.5,485.4 601.8,485.4" fill="none" stroke="#222" stroke-width="1"/>
<text x="566.8" y="479.4" font-size="11" text-anchor="middle" font-weight="bold" fill="#111">*</text>
</g>
<g id="panel-d">
<text x="-0.5" y="681.3" font-size="16.5" text-anchor="start" font-weight="bold" fill="#111">d</text>
<text x="23.7" y="676.3" font-size="10.4" text-anchor="start" font-weight="bold" fill="#111">UCSD/AML1</text>
<text x="66.6" y="741.6" font-size="10.4" text-anchor="start" font-weight="bold" fill="#111" transform="rotate(-90 66.6 741.6)">parental</text>
<text x="103.6" y="741.6" font-size="10.4" text-anchor="start" font-weight="bold" fill="#111" transform="rotate(-90 103.6 741.6)">shCNTL</text>
<text x="138.4" y="741.6" font-size="10.4" text-anchor="start" font-weight="bold" fill="#111" transform="rotate(-90 138.4 741.6)">shEVI1</text>
<line x1="42.4" y1="744.9" x2="151.7" y2="744.9" stroke="#333" stroke-width="1.2"/>
<text x="0" y="769.4" font-size="10.3" text-anchor="start" font-weight="bold" fill="#111">EVI1</text>
<text x="0" y="789.4" font-size="10.3" text-anchor="start" font-weight="bold" fill="#111">β-actin</text>
<g clip-path="url(#clipd1)">
<rect x="40.6" y="753.8" width="119" height="19" fill="url(#gd1)"/>
<g filter="url(#blur2)">
<rect x="42" y="753" width="76" height="6" fill="#8a8a8a" opacity="0.55"/>
<rect x="48.2" y="754" width="28" height="14.6" rx="5" fill="#2e2e2e"/>
<ellipse cx="63" cy="763" rx="12.3" ry="5.2" fill="#000"/>
<rect x="89.6" y="754" width="24.4" height="14.2" rx="5" fill="#333"/>
<ellipse cx="101.3" cy="763" rx="10.6" ry="4.8" fill="#000"/>
<ellipse cx="140" cy="762" rx="12.5" ry="3.6" fill="#c2c2c2"/>
<ellipse cx="131" cy="764" rx="5" ry="3.6" fill="#a8a8a8"/>
<ellipse cx="150.5" cy="759.5" rx="4" ry="4" fill="#aaa"/>
</g></g>
<g clip-path="url(#clipd2)">
<rect x="40.6" y="773.9" width="119" height="15.2" fill="#c6c6c6"/>
<g filter="url(#blur1)">
<ellipse cx="59.7" cy="781.8" rx="15.5" ry="3.6" fill="#050505"/>
<ellipse cx="99.9" cy="781.8" rx="14.5" ry="3.6" fill="#050505"/>
<ellipse cx="138" cy="781.7" rx="16.8" ry="5" fill="#050505"/>
</g></g>
<rect x="40.6" y="753.8" width="119" height="19" fill="none" stroke="#222" stroke-width="1"/>
<rect x="40.6" y="773.9" width="119" height="15.2" fill="none" stroke="#222" stroke-width="1"/>
</g>
<g id="panel-e">
<text x="177.5" y="677.6" font-size="16.5" text-anchor="start" font-weight="bold" fill="#111">e</text>
<text x="210.6" y="676.3" font-size="10.4" text-anchor="start" font-weight="bold" fill="#111">UCSD/AML1</text>
<line x1="211.7" y1="687.8" x2="325.1" y2="687.8" stroke="#222" stroke-width="1"/>
<line x1="325.1" y1="687.8" x2="325.1" y2="795" stroke="#333" stroke-width="0.9"/>
<line x1="211.7" y1="687.3" x2="211.7" y2="796" stroke="#0a0a0a" stroke-width="2.1"/>
<line x1="210.7" y1="795" x2="325.6" y2="795" stroke="#0a0a0a" stroke-width="1.9"/>
<line x1="207.1" y1="795.0" x2="211.7" y2="795.0" stroke="#111" stroke-width="1"/>
<line x1="209.1" y1="790.712" x2="211.7" y2="790.712" stroke="#333" stroke-width="0.6"/>
<line x1="209.1" y1="786.424" x2="211.7" y2="786.424" stroke="#333" stroke-width="0.6"/>
<line x1="209.1" y1="782.136" x2="211.7" y2="782.136" stroke="#333" stroke-width="0.6"/>
<line x1="209.1" y1="777.848" x2="211.7" y2="777.848" stroke="#333" stroke-width="0.6"/>
<line x1="207.1" y1="773.56" x2="211.7" y2="773.56" stroke="#111" stroke-width="1"/>
<line x1="209.1" y1="769.2719999999999" x2="211.7" y2="769.2719999999999" stroke="#333" stroke-width="0.6"/>
<line x1="209.1" y1="764.984" x2="211.7" y2="764.984" stroke="#333" stroke-width="0.6"/>
<line x1="209.1" y1="760.696" x2="211.7" y2="760.696" stroke="#333" stroke-width="0.6"/>
<line x1="209.1" y1="756.408" x2="211.7" y2="756.408" stroke="#333" stroke-width="0.6"/>
<line x1="207.1" y1="752.12" x2="211.7" y2="752.12" stroke="#111" stroke-width="1"/>
<line x1="209.1" y1="747.832" x2="211.7" y2="747.832" stroke="#333" stroke-width="0.6"/>
<line x1="209.1" y1="743.544" x2="211.7" y2="743.544" stroke="#333" stroke-width="0.6"/>
<line x1="209.1" y1="739.256" x2="211.7" y2="739.256" stroke="#333" stroke-width="0.6"/>
<line x1="209.1" y1="734.968" x2="211.7" y2="734.968" stroke="#333" stroke-width="0.6"/>
<line x1="207.1" y1="730.68" x2="211.7" y2="730.68" stroke="#111" stroke-width="1"/>
<line x1="209.1" y1="726.3919999999999" x2="211.7" y2="726.3919999999999" stroke="#333" stroke-width="0.6"/>
<line x1="209.1" y1="722.1039999999999" x2="211.7" y2="722.1039999999999" stroke="#333" stroke-width="0.6"/>
<line x1="209.1" y1="717.816" x2="211.7" y2="717.816" stroke="#333" stroke-width="0.6"/>
<line x1="209.1" y1="713.528" x2="211.7" y2="713.528" stroke="#333" stroke-width="0.6"/>
<line x1="207.1" y1="709.24" x2="211.7" y2="709.24" stroke="#111" stroke-width="1"/>
<line x1="209.1" y1="704.952" x2="211.7" y2="704.952" stroke="#333" stroke-width="0.6"/>
<line x1="209.1" y1="700.664" x2="211.7" y2="700.664" stroke="#333" stroke-width="0.6"/>
<line x1="209.1" y1="696.376" x2="211.7" y2="696.376" stroke="#333" stroke-width="0.6"/>
<line x1="209.1" y1="692.088" x2="211.7" y2="692.088" stroke="#333" stroke-width="0.6"/>
<line x1="207.1" y1="687.8" x2="211.7" y2="687.8" stroke="#111" stroke-width="1"/>
<text class="tk" x="203" y="795.0" font-size="6.9" text-anchor="middle" fill="#111" transform="rotate(-90 203 795.0)">0</text>
<text class="tk" x="203" y="773.6" font-size="6.9" text-anchor="middle" fill="#111" transform="rotate(-90 203 773.6)">40</text>
<text class="tk" x="203" y="752.1" font-size="6.9" text-anchor="middle" fill="#111" transform="rotate(-90 203 752.1)">80</text>
<text class="tk" x="203" y="730.7" font-size="6.9" text-anchor="middle" fill="#111" transform="rotate(-90 203 730.7)">120</text>
<text class="tk" x="203" y="709.2" font-size="6.9" text-anchor="middle" fill="#111" transform="rotate(-90 203 709.2)">160</text>
<text class="tk" x="203" y="687.8" font-size="6.9" text-anchor="middle" fill="#111" transform="rotate(-90 203 687.8)">200</text>
<line x1="211.7" y1="795" x2="211.7" y2="799.2" stroke="#111" stroke-width="1"/>
<line x1="220.23420037707385" y1="795" x2="220.23420037707385" y2="797.4" stroke="#333" stroke-width="0.6"/>
<line x1="225.2263875713024" y1="795" x2="225.2263875713024" y2="797.4" stroke="#333" stroke-width="0.6"/>
<line x1="228.76840075414773" y1="795" x2="228.76840075414773" y2="797.4" stroke="#333" stroke-width="0.6"/>
<line x1="231.51579962292612" y1="795" x2="231.51579962292612" y2="797.4" stroke="#333" stroke-width="0.6"/>
<line x1="233.7605879483763" y1="795" x2="233.7605879483763" y2="797.4" stroke="#333" stroke-width="0.6"/>
<line x1="235.6585294344042" y1="795" x2="235.6585294344042" y2="797.4" stroke="#333" stroke-width="0.6"/>
<line x1="237.3026011312216" y1="795" x2="237.3026011312216" y2="797.4" stroke="#333" stroke-width="0.6"/>
<line x1="238.75277514260486" y1="795" x2="238.75277514260486" y2="797.4" stroke="#333" stroke-width="0.6"/>
<text class="tk" x="206.3" y="813.2" font-size="7.0" fill="#222">10<tspan font-size="5.0" dy="-2.7">0</tspan></text>
<line x1="240.05" y1="795" x2="240.05" y2="799.2" stroke="#111" stroke-width="1"/>
<line x1="248.58420037707387" y1="795" x2="248.58420037707387" y2="797.4" stroke="#333" stroke-width="0.6"/>
<line x1="253.57638757130243" y1="795" x2="253.57638757130243" y2="797.4" stroke="#333" stroke-width="0.6"/>
<line x1="257.11840075414773" y1="795" x2="257.11840075414773" y2="797.4" stroke="#333" stroke-width="0.6"/>
<line x1="259.86579962292615" y1="795" x2="259.86579962292615" y2="797.4" stroke="#333" stroke-width="0.6"/>
<line x1="262.1105879483763" y1="795" x2="262.1105879483763" y2="797.4" stroke="#333" stroke-width="0.6"/>
<line x1="264.0085294344042" y1="795" x2="264.0085294344042" y2="797.4" stroke="#333" stroke-width="0.6"/>
<line x1="265.6526011312216" y1="795" x2="265.6526011312216" y2="797.4" stroke="#333" stroke-width="0.6"/>
<line x1="267.10277514260486" y1="795" x2="267.10277514260486" y2="797.4" stroke="#333" stroke-width="0.6"/>
<text class="tk" x="234.7" y="813.2" font-size="7.0" fill="#222">10<tspan font-size="5.0" dy="-2.7">1</tspan></text>
<line x1="268.4" y1="795" x2="268.4" y2="799.2" stroke="#111" stroke-width="1"/>
<line x1="276.93420037707386" y1="795" x2="276.93420037707386" y2="797.4" stroke="#333" stroke-width="0.6"/>
<line x1="281.9263875713024" y1="795" x2="281.9263875713024" y2="797.4" stroke="#333" stroke-width="0.6"/>
<line x1="285.4684007541477" y1="795" x2="285.4684007541477" y2="797.4" stroke="#333" stroke-width="0.6"/>
<line x1="288.2157996229261" y1="795" x2="288.2157996229261" y2="797.4" stroke="#333" stroke-width="0.6"/>
<line x1="290.46058794837626" y1="795" x2="290.46058794837626" y2="797.4" stroke="#333" stroke-width="0.6"/>
<line x1="292.35852943440415" y1="795" x2="292.35852943440415" y2="797.4" stroke="#333" stroke-width="0.6"/>
<line x1="294.0026011312216" y1="795" x2="294.0026011312216" y2="797.4" stroke="#333" stroke-width="0.6"/>
<line x1="295.4527751426048" y1="795" x2="295.4527751426048" y2="797.4" stroke="#333" stroke-width="0.6"/>
<text class="tk" x="263.0" y="813.2" font-size="7.0" fill="#222">10<tspan font-size="5.0" dy="-2.7">2</tspan></text>
<line x1="296.75" y1="795" x2="296.75" y2="799.2" stroke="#111" stroke-width="1"/>
<line x1="305.2842003770739" y1="795" x2="305.2842003770739" y2="797.4" stroke="#333" stroke-width="0.6"/>
<line x1="310.27638757130245" y1="795" x2="310.27638757130245" y2="797.4" stroke="#333" stroke-width="0.6"/>
<line x1="313.8184007541477" y1="795" x2="313.8184007541477" y2="797.4" stroke="#333" stroke-width="0.6"/>
<line x1="316.56579962292614" y1="795" x2="316.56579962292614" y2="797.4" stroke="#333" stroke-width="0.6"/>
<line x1="318.8105879483763" y1="795" x2="318.8105879483763" y2="797.4" stroke="#333" stroke-width="0.6"/>
<line x1="320.70852943440417" y1="795" x2="320.70852943440417" y2="797.4" stroke="#333" stroke-width="0.6"/>
<line x1="322.3526011312216" y1="795" x2="322.3526011312216" y2="797.4" stroke="#333" stroke-width="0.6"/>
<line x1="323.80277514260484" y1="795" x2="323.80277514260484" y2="797.4" stroke="#333" stroke-width="0.6"/>
<text class="tk" x="291.4" y="813.2" font-size="7.0" fill="#222">10<tspan font-size="5.0" dy="-2.7">3</tspan></text>
<line x1="325.1" y1="795" x2="325.1" y2="799.2" stroke="#111" stroke-width="1"/>
<text class="tk" x="319.7" y="813.2" font-size="7.0" fill="#222">10<tspan font-size="5.0" dy="-2.7">4</tspan></text>
<text x="187.2" y="738.5" font-size="10.3" text-anchor="middle" font-weight="bold" fill="#111" transform="rotate(-90 187.2 738.5)">Cell Counts</text>
<text x="248.4" y="831.6" font-size="10.6" text-anchor="start" font-weight="bold" fill="#111">GPR56</text>
<path d="M212.4,784.0 L214.0,781.0 L216.3,778.5 L218.0,779.5 L220.2,773.5 L222.0,774.5 L224.0,769.0 L225.5,767.3 L227.0,769.0 L229.0,768.5 L230.6,772.0 L232.5,777.0 L234.3,783.0 L236.0,785.0 L238.2,789.5 L241.0,791.5 L244.6,793.5 L252.0,794.2 L270.0,794.5" fill="none" stroke="#aaa" stroke-width="0.8" stroke-linejoin="round"/>
<path d="M212.0,794.0 L220.0,793.6 L226.0,793.0 L229.5,792.0 L232.0,789.5 L234.3,786.0 L236.0,780.0 L237.4,773.0 L238.8,766.0 L240.0,757.5 L241.0,752.0 L242.0,747.2 L243.0,750.5 L244.0,749.5 L244.8,754.0 L246.0,758.0 L247.2,763.0 L248.8,769.0 L250.2,775.5 L252.0,782.0 L253.6,787.0 L256.0,790.5 L258.7,792.5 L264.0,793.6 L280.0,794.3 L324.0,794.6" fill="none" stroke="#555" stroke-width="0.9" stroke-linejoin="round"/>
<path d="M212.2,788.5 L213.5,786.0 L214.8,787.0 L216.3,783.8 L217.6,785.0 L219.0,781.5 L220.2,782.5 L221.4,779.5 L222.6,780.5 L223.8,776.0 L225.3,773.3 L226.4,774.5 L227.6,768.0 L229.2,763.0 L230.2,764.5 L231.4,758.0 L233.0,753.0 L234.0,754.5 L235.1,748.0 L236.2,751.5 L237.4,755.0 L238.6,760.0 L239.6,763.0 L240.7,768.0 L242.0,773.5 L243.3,777.5 L244.6,781.0 L246.5,784.8 L248.4,787.5 L251.5,789.8 L254.9,791.2 L259.0,792.0 L265.2,793.0 L278.0,794.2 L300.0,794.5" fill="none" stroke="#0a0a0a" stroke-width="1.7" stroke-linejoin="round"/>
<text x="238.2" y="740.6" font-size="10.6" text-anchor="start" font-weight="bold" fill="#111" transform="rotate(-39.5 238.2 740.6)">shEVI1</text>
<text x="247.6" y="750.4" font-size="10.6" text-anchor="start" font-weight="bold" fill="#111" transform="rotate(-39 247.6 750.4)">shCNTL</text>
</g>
<g id="panel-g">
<text x="348.3" y="678" font-size="16.5" text-anchor="start" font-weight="bold" fill="#111">g</text>
<text x="369.1" y="676.3" font-size="10.3" text-anchor="start" font-weight="bold" fill="#111">U937</text>
<text x="411.4" y="743.7" font-size="10.4" text-anchor="start" font-weight="bold" fill="#111" transform="rotate(-90 411.4 743.7)">parental</text>
<text x="443.7" y="743.7" font-size="10.4" text-anchor="start" font-weight="bold" fill="#111" transform="rotate(-90 443.7 743.7)">U937/Mock</text>
<text x="476" y="743.7" font-size="10.4" text-anchor="start" font-weight="bold" fill="#111" transform="rotate(-90 476 743.7)">U937/EVI1</text>
<line x1="388.2" y1="748.8" x2="485.8" y2="748.8" stroke="#707070" stroke-width="1.8"/>
<text x="348.5" y="769.8" font-size="10.3" text-anchor="start" font-weight="bold" fill="#111">EVI1</text>
<text x="348.5" y="789.5" font-size="10.3" text-anchor="start" font-weight="bold" fill="#111">β-actin</text>
<g clip-path="url(#clipg1)">
<rect x="387.3" y="755.4" width="105.6" height="20" fill="#ededed"/>
<g filter="url(#blur2)">
<rect x="461" y="757.8" width="31" height="15" rx="4" fill="#4a4a4a"/>
<ellipse cx="474.5" cy="767" rx="12.5" ry="4.4" fill="#0c0c0c"/>
<ellipse cx="487.5" cy="764.5" rx="4" ry="6" fill="#1c1c1c"/>
</g></g>
<g clip-path="url(#clipg2)">
<rect x="387.3" y="776.3" width="105.6" height="15.1" fill="#d6d6d6"/>
<g filter="url(#blur1)">
<ellipse cx="404.5" cy="782.6" rx="13.6" ry="3.6" fill="#050505"/>
<ellipse cx="440.3" cy="783.6" rx="14" ry="3.9" fill="#050505"/>
<ellipse cx="473.5" cy="784.2" rx="13.6" ry="3.8" fill="#050505"/>
</g></g>
<rect x="387.3" y="755.4" width="105.6" height="20" fill="none" stroke="#111" stroke-width="1"/>
<rect x="387.3" y="776.3" width="105.6" height="15.1" fill="none" stroke="#111" stroke-width="1.1"/>
</g>
<g id="panel-h">
<text x="511.8" y="681.1" font-size="16.5" text-anchor="start" font-weight="bold" fill="#111">h</text>
<text x="542.4" y="676.3" font-size="10.3" text-anchor="start" font-weight="bold" fill="#111">U937</text>
<line x1="543" y1="686.5" x2="655.6" y2="686.5" stroke="#222" stroke-width="1"/>
<line x1="655.6" y1="686.5" x2="655.6" y2="796.3" stroke="#333" stroke-width="0.9"/>
<line x1="543" y1="686.0" x2="543" y2="797.3" stroke="#0a0a0a" stroke-width="2.1"/>
<line x1="542" y1="796.3" x2="656.1" y2="796.3" stroke="#0a0a0a" stroke-width="1.9"/>
<line x1="538.4" y1="796.3" x2="543" y2="796.3" stroke="#111" stroke-width="1"/>
<line x1="540.4" y1="791.9079999999999" x2="543" y2="791.9079999999999" stroke="#333" stroke-width="0.6"/>
<line x1="540.4" y1="787.516" x2="543" y2="787.516" stroke="#333" stroke-width="0.6"/>
<line x1="540.4" y1="783.1239999999999" x2="543" y2="783.1239999999999" stroke="#333" stroke-width="0.6"/>
<line x1="540.4" y1="778.732" x2="543" y2="778.732" stroke="#333" stroke-width="0.6"/>
<line x1="538.4" y1="774.3399999999999" x2="543" y2="774.3399999999999" stroke="#111" stroke-width="1"/>
<line x1="540.4" y1="769.948" x2="543" y2="769.948" stroke="#333" stroke-width="0.6"/>
<line x1="540.4" y1="765.5559999999999" x2="543" y2="765.5559999999999" stroke="#333" stroke-width="0.6"/>
<line x1="540.4" y1="761.164" x2="543" y2="761.164" stroke="#333" stroke-width="0.6"/>
<line x1="540.4" y1="756.7719999999999" x2="543" y2="756.7719999999999" stroke="#333" stroke-width="0.6"/>
<line x1="538.4" y1="752.38" x2="543" y2="752.38" stroke="#111" stroke-width="1"/>
<line x1="540.4" y1="747.9879999999999" x2="543" y2="747.9879999999999" stroke="#333" stroke-width="0.6"/>
<line x1="540.4" y1="743.596" x2="543" y2="743.596" stroke="#333" stroke-width="0.6"/>
<line x1="540.4" y1="739.204" x2="543" y2="739.204" stroke="#333" stroke-width="0.6"/>
<line x1="540.4" y1="734.812" x2="543" y2="734.812" stroke="#333" stroke-width="0.6"/>
<line x1="538.4" y1="730.42" x2="543" y2="730.42" stroke="#111" stroke-width="1"/>
<line x1="540.4" y1="726.028" x2="543" y2="726.028" stroke="#333" stroke-width="0.6"/>
<line x1="540.4" y1="721.636" x2="543" y2="721.636" stroke="#333" stroke-width="0.6"/>
<line x1="540.4" y1="717.244" x2="543" y2="717.244" stroke="#333" stroke-width="0.6"/>
<line x1="540.4" y1="712.852" x2="543" y2="712.852" stroke="#333" stroke-width="0.6"/>
<line x1="538.4" y1="708.46" x2="543" y2="708.46" stroke="#111" stroke-width="1"/>
<line x1="540.4" y1="704.068" x2="543" y2="704.068" stroke="#333" stroke-width="0.6"/>
<line x1="540.4" y1="699.6759999999999" x2="543" y2="699.6759999999999" stroke="#333" stroke-width="0.6"/>
<line x1="540.4" y1="695.284" x2="543" y2="695.284" stroke="#333" stroke-width="0.6"/>
<line x1="540.4" y1="690.892" x2="543" y2="690.892" stroke="#333" stroke-width="0.6"/>
<line x1="538.4" y1="686.5" x2="543" y2="686.5" stroke="#111" stroke-width="1"/>
<text class="tk" x="536" y="796.3" font-size="6.9" text-anchor="middle" fill="#111" transform="rotate(-90 536 796.3)">0</text>
<text class="tk" x="536" y="774.3" font-size="6.9" text-anchor="middle" fill="#111" transform="rotate(-90 536 774.3)">40</text>
<text class="tk" x="536" y="752.4" font-size="6.9" text-anchor="middle" fill="#111" transform="rotate(-90 536 752.4)">80</text>
<text class="tk" x="536" y="730.4" font-size="6.9" text-anchor="middle" fill="#111" transform="rotate(-90 536 730.4)">120</text>
<text class="tk" x="536" y="708.5" font-size="6.9" text-anchor="middle" fill="#111" transform="rotate(-90 536 708.5)">160</text>
<text class="tk" x="536" y="686.5" font-size="6.9" text-anchor="middle" fill="#111" transform="rotate(-90 536 686.5)">200</text>
<line x1="543.0" y1="796.3" x2="543.0" y2="800.5" stroke="#111" stroke-width="1"/>
<line x1="551.473994377941" y1="796.3" x2="551.473994377941" y2="798.6999999999999" stroke="#333" stroke-width="0.6"/>
<line x1="556.4309633203585" y1="796.3" x2="556.4309633203585" y2="798.6999999999999" stroke="#333" stroke-width="0.6"/>
<line x1="559.9479887558822" y1="796.3" x2="559.9479887558822" y2="798.6999999999999" stroke="#333" stroke-width="0.6"/>
<line x1="562.6760056220589" y1="796.3" x2="562.6760056220589" y2="798.6999999999999" stroke="#333" stroke-width="0.6"/>
<line x1="564.9049576982995" y1="796.3" x2="564.9049576982995" y2="798.6999999999999" stroke="#333" stroke-width="0.6"/>
<line x1="566.7895098264013" y1="796.3" x2="566.7895098264013" y2="798.6999999999999" stroke="#333" stroke-width="0.6"/>
<line x1="568.4219831338232" y1="796.3" x2="568.4219831338232" y2="798.6999999999999" stroke="#333" stroke-width="0.6"/>
<line x1="569.861926640717" y1="796.3" x2="569.861926640717" y2="798.6999999999999" stroke="#333" stroke-width="0.6"/>
<text class="tk" x="541.3" y="814.3" font-size="6.0" fill="#222" textLength="8.0" lengthAdjust="spacingAndGlyphs">10<tspan font-size="4.3" dy="-2.7">0</tspan></text>
<line x1="571.15" y1="796.3" x2="571.15" y2="800.5" stroke="#111" stroke-width="1"/>
<line x1="579.623994377941" y1="796.3" x2="579.623994377941" y2="798.6999999999999" stroke="#333" stroke-width="0.6"/>
<line x1="584.5809633203585" y1="796.3" x2="584.5809633203585" y2="798.6999999999999" stroke="#333" stroke-width="0.6"/>
<line x1="588.0979887558822" y1="796.3" x2="588.0979887558822" y2="798.6999999999999" stroke="#333" stroke-width="0.6"/>
<line x1="590.8260056220589" y1="796.3" x2="590.8260056220589" y2="798.6999999999999" stroke="#333" stroke-width="0.6"/>
<line x1="593.0549576982995" y1="796.3" x2="593.0549576982995" y2="798.6999999999999" stroke="#333" stroke-width="0.6"/>
<line x1="594.9395098264013" y1="796.3" x2="594.9395098264013" y2="798.6999999999999" stroke="#333" stroke-width="0.6"/>
<line x1="596.5719831338232" y1="796.3" x2="596.5719831338232" y2="798.6999999999999" stroke="#333" stroke-width="0.6"/>
<line x1="598.011926640717" y1="796.3" x2="598.011926640717" y2="798.6999999999999" stroke="#333" stroke-width="0.6"/>
<text class="tk" x="569.4" y="814.3" font-size="6.0" fill="#222" textLength="8.0" lengthAdjust="spacingAndGlyphs">10<tspan font-size="4.3" dy="-2.7">1</tspan></text>
<line x1="599.3" y1="796.3" x2="599.3" y2="800.5" stroke="#111" stroke-width="1"/>
<line x1="607.773994377941" y1="796.3" x2="607.773994377941" y2="798.6999999999999" stroke="#333" stroke-width="0.6"/>
<line x1="612.7309633203585" y1="796.3" x2="612.7309633203585" y2="798.6999999999999" stroke="#333" stroke-width="0.6"/>
<line x1="616.2479887558821" y1="796.3" x2="616.2479887558821" y2="798.6999999999999" stroke="#333" stroke-width="0.6"/>
<line x1="618.9760056220589" y1="796.3" x2="618.9760056220589" y2="798.6999999999999" stroke="#333" stroke-width="0.6"/>
<line x1="621.2049576982995" y1="796.3" x2="621.2049576982995" y2="798.6999999999999" stroke="#333" stroke-width="0.6"/>
<line x1="623.0895098264012" y1="796.3" x2="623.0895098264012" y2="798.6999999999999" stroke="#333" stroke-width="0.6"/>
<line x1="624.7219831338232" y1="796.3" x2="624.7219831338232" y2="798.6999999999999" stroke="#333" stroke-width="0.6"/>
<line x1="626.161926640717" y1="796.3" x2="626.161926640717" y2="798.6999999999999" stroke="#333" stroke-width="0.6"/>
<text class="tk" x="597.6" y="814.3" font-size="6.0" fill="#222" textLength="8.0" lengthAdjust="spacingAndGlyphs">10<tspan font-size="4.3" dy="-2.7">2</tspan></text>
<line x1="627.45" y1="796.3" x2="627.45" y2="800.5" stroke="#111" stroke-width="1"/>
<line x1="635.9239943779411" y1="796.3" x2="635.9239943779411" y2="798.6999999999999" stroke="#333" stroke-width="0.6"/>
<line x1="640.8809633203585" y1="796.3" x2="640.8809633203585" y2="798.6999999999999" stroke="#333" stroke-width="0.6"/>
<line x1="644.3979887558822" y1="796.3" x2="644.3979887558822" y2="798.6999999999999" stroke="#333" stroke-width="0.6"/>
<line x1="647.126005622059" y1="796.3" x2="647.126005622059" y2="798.6999999999999" stroke="#333" stroke-width="0.6"/>
<line x1="649.3549576982996" y1="796.3" x2="649.3549576982996" y2="798.6999999999999" stroke="#333" stroke-width="0.6"/>
<line x1="651.2395098264013" y1="796.3" x2="651.2395098264013" y2="798.6999999999999" stroke="#333" stroke-width="0.6"/>
<line x1="652.8719831338233" y1="796.3" x2="652.8719831338233" y2="798.6999999999999" stroke="#333" stroke-width="0.6"/>
<line x1="654.311926640717" y1="796.3" x2="654.311926640717" y2="798.6999999999999" stroke="#333" stroke-width="0.6"/>
<text class="tk" x="625.8" y="814.3" font-size="6.0" fill="#222" textLength="8.0" lengthAdjust="spacingAndGlyphs">10<tspan font-size="4.3" dy="-2.7">3</tspan></text>
<line x1="655.6" y1="796.3" x2="655.6" y2="800.5" stroke="#111" stroke-width="1"/>
<text class="tk" x="653.9" y="814.3" font-size="6.0" fill="#222" textLength="8.0" lengthAdjust="spacingAndGlyphs">10<tspan font-size="4.3" dy="-2.7">4</tspan></text>
<text x="520.6" y="739" font-size="10.3" text-anchor="middle" font-weight="bold" fill="#111" transform="rotate(-90 520.6 739)">Cell Counts</text>
<text x="581" y="831.8" font-size="10.6" text-anchor="start" font-weight="bold" fill="#111">GPR56</text>
<path d="M543.7,778.5 L545.0,775.0 L546.5,770.0 L548.0,766.0 L548.9,764.0 L550.0,768.0 L551.5,766.0 L553.0,769.5 L555.0,767.5 L557.0,770.0 L559.0,771.5 L561.0,774.0 L563.0,778.0 L565.5,783.5 L568.0,788.0 L571.0,791.0 L575.9,793.5 L590.0,795.0" fill="none" stroke="#aaa" stroke-width="0.8" stroke-linejoin="round"/>
<path d="M543.7,781.0 L545.0,779.0 L546.3,773.0 L547.5,769.0 L548.9,764.0 L550.0,770.0 L551.2,766.0 L552.7,769.3 L554.0,765.0 L555.3,767.0 L556.6,764.6 L558.0,768.0 L559.2,765.0 L560.4,766.8 L562.0,764.5 L563.8,767.5 L565.3,771.0 L566.9,775.7 L568.2,780.0 L569.4,783.5 L571.3,787.0 L573.3,790.0 L575.5,792.0 L578.4,793.8 L590.0,795.2 L655.0,795.6" fill="none" stroke="#555" stroke-width="0.9" stroke-linejoin="round"/>
<path d="M543.4,793.8 L548.0,794.0 L553.0,793.4 L556.5,794.0 L560.0,793.2 L563.0,793.0 L565.5,791.5 L568.2,788.5 L569.5,784.0 L570.7,775.5 L572.0,764.0 L573.3,752.5 L574.6,743.0 L575.9,736.5 L577.2,741.0 L578.4,747.5 L579.7,757.0 L581.0,768.0 L582.5,778.0 L584.1,786.0 L586.0,791.0 L588.2,793.8 L595.0,794.8 L620.0,795.3 L655.0,795.5" fill="none" stroke="#0a0a0a" stroke-width="1.7" stroke-linejoin="round"/>
<text x="566.3" y="737" font-size="10.6" text-anchor="start" font-weight="bold" fill="#111" transform="rotate(-40 566.3 737)">U937/Mock</text>
<text x="594.7" y="732" font-size="10.6" text-anchor="start" font-weight="bold" fill="#111" transform="rotate(-40 594.7 732)">U937/EVI1</text>
</g>
</svg></body></html>
